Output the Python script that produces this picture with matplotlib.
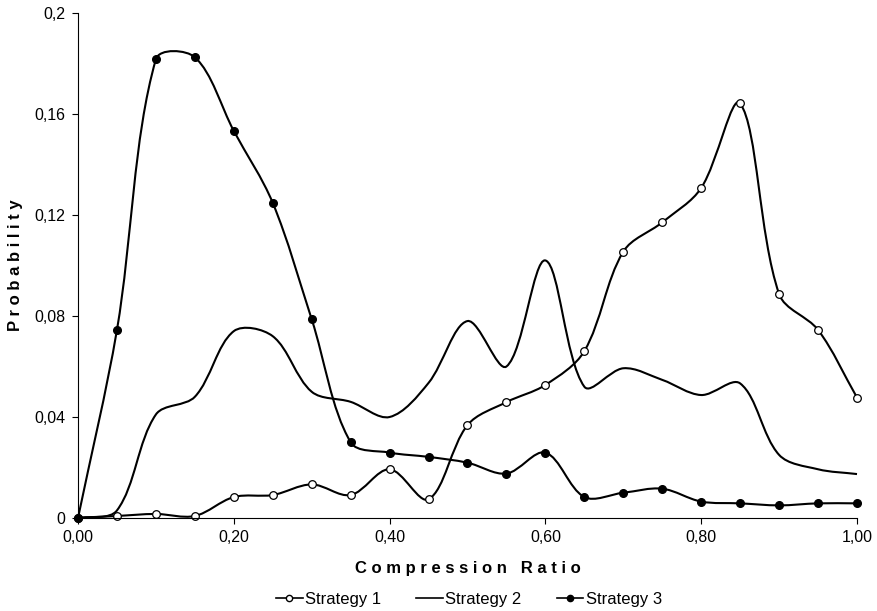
import matplotlib.pyplot as plt
from matplotlib.path import Path
from matplotlib.patches import PathPatch
from matplotlib.lines import Line2D
import numpy as np

plt.rcParams['font.family'] = ['Liberation Sans', 'DejaVu Sans']

# Compression ratio steps and probabilities
ratio = [0.00, 0.05, 0.10, 0.15, 0.20, 0.25, 0.30, 0.35, 0.40, 0.45, 0.50,
         0.55, 0.60, 0.65, 0.70, 0.75, 0.80, 0.85, 0.90, 0.95, 1.00]
strategy1 = [0.0, 0.0008, 0.0016, 0.0008, 0.0083, 0.0091, 0.0133, 0.0091, 0.0193, 0.0074, 0.0368,
             0.0459, 0.0527, 0.0661, 0.1055, 0.1171, 0.1307, 0.1642, 0.0887, 0.0745, 0.0477]
strategy2 = [0.0, 0.003, 0.041, 0.048, 0.074, 0.072, 0.050, 0.046, 0.040, 0.0535, 0.078,
             0.060, 0.102, 0.052, 0.0593, 0.0547, 0.0487, 0.0533, 0.025, 0.0193, 0.0174]
strategy3 = [0.0, 0.0745, 0.1817, 0.1825, 0.1533, 0.1248, 0.0787, 0.030, 0.0259, 0.0242, 0.0219,
             0.0176, 0.0259, 0.0083, 0.0100, 0.0116, 0.0065, 0.0058, 0.0050, 0.0058, 0.0058]

x_ticks = [0.0, 0.2, 0.4, 0.6, 0.8, 1.0]
y_ticks = [0, 0.04, 0.08, 0.12, 0.16, 0.2]


# Excel-style smoothed line: bezier segments, control arms scaled by segment length (screen space)
def smooth_path(ax, xs, ys):
    pts = ax.transData.transform(np.column_stack([xs, ys]))
    n = len(pts)
    verts = [pts[0]]
    codes = [Path.MOVETO]
    for i in range(n - 1):
        p0 = pts[i - 1] if i > 0 else pts[i]
        p1 = pts[i]
        p2 = pts[i + 1]
        p3 = pts[i + 2] if i + 2 < n else pts[i + 1]
        d01 = np.hypot(*(p1 - p0))
        d12 = np.hypot(*(p2 - p1))
        d23 = np.hypot(*(p3 - p2))
        c1 = p1 + (p2 - p0) * d12 / (d01 + d12) / 3.0
        c2 = p2 - (p3 - p1) * d12 / (d12 + d23) / 3.0
        verts += [c1, c2, p2]
        codes += [Path.CURVE4] * 3
    verts = ax.transData.inverted().transform(np.array(verts))
    return Path(verts, codes)


fig = plt.figure(figsize=(8.78, 6.11), dpi=100)
ax = fig.add_axes([78 / 878, 1 - 518 / 611, (857 - 78) / 878, (518 - 13) / 611])
ax.set_xlim(0, 1)
ax.set_ylim(0, 0.2)

lw = 1.5
for vals in [strategy1, strategy2, strategy3]:
    ax.add_patch(PathPatch(smooth_path(ax, ratio, vals), facecolor='none', edgecolor='black',
                           lw=lw, clip_on=False))

ax.plot(ratio, strategy1, linestyle='none', marker='o', ms=5.5, mfc='white', mec='black',
        mew=0.9, clip_on=False)
ax.plot(ratio, strategy3, linestyle='none', marker='o', ms=5.5, mfc='black', mec='black',
        clip_on=False)

ax.set_xticks(x_ticks)
ax.set_xticklabels([f"{t:.2f}".replace('.', ',') for t in x_ticks])
ax.set_yticks(y_ticks)
ax.set_yticklabels(['0', '0,04', '0,08', '0,12', '0,16', '0,2'])
ax.tick_params(direction='out', length=4, width=0.8, labelsize=11.5, pad=5)
for s in ['top', 'right']:
    ax.spines[s].set_visible(False)
for s in ['left', 'bottom']:
    ax.spines[s].set_linewidth(0.8)

ax.set_xlabel('C o m p r e s s i o n   R a t i o', fontsize=12, fontweight='bold', labelpad=11)
ax.set_ylabel('P r o b a b i l i t y', fontsize=12, fontweight='bold', labelpad=8)

handles = [
    Line2D([], [], color='black', lw=1.2, marker='o', ms=4.5, mfc='white', mec='black'),
    Line2D([], [], color='black', lw=1.2),
    Line2D([], [], color='black', lw=1.2, marker='o', ms=4.5, mfc='black', mec='black'),
]
fig.legend(handles, ['Strategy 1', 'Strategy 2', 'Strategy 3'], loc='lower center',
           bbox_to_anchor=(0.534, -0.018), ncol=3, frameon=False, fontsize=12,
           handlelength=1.6, handletextpad=0.15, columnspacing=2.1)

fig.savefig('out.png', dpi=100)
